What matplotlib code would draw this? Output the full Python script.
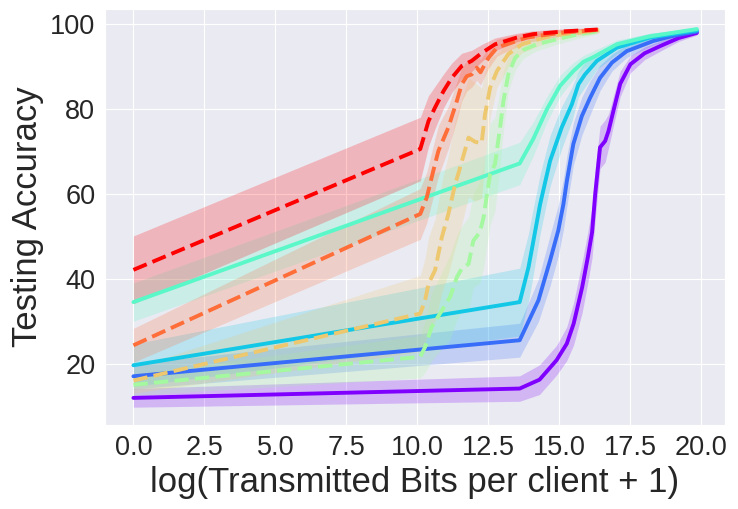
import matplotlib
matplotlib.use("Agg")
import matplotlib.pyplot as plt
import seaborn as sns
import numpy as np

sns.set_style("darkgrid")
plt.rcParams['font.family'] = ['Liberation Sans', 'DejaVu Sans']

# ---- data ----
x_purple = [0, 13.6, 14.3, 14.9, 15.26, 15.5, 15.8, 16.0, 16.15, 16.26, 16.43, 16.61, 16.73, 16.9, 17.14, 17.5, 18.0, 18.55, 19.2, 19.84]
y_purple = [11.9, 14.1, 16.2, 20.8, 24.7, 29.4, 38.0, 45.1, 51.0, 60.0, 71.0, 72.5, 74.9, 79.6, 86.0, 90.6, 93.2, 94.9, 96.8, 98.0]
s_purple = [2.2, 3.0, 3.5, 3.5, 4, 5, 6, 6, 6, 6, 5, 5, 4, 3.5, 3, 2, 1.5, 1.2, 0.8, 0.5]

x_blue = [0, 13.6, 14.26, 14.67, 14.96, 15.14, 15.26, 15.49, 15.79, 16.08, 16.43, 16.85, 17.37, 18.31, 19.0, 19.84]
y_blue = [17.0, 25.5, 34.9, 44.3, 51.4, 57.6, 63.0, 71.8, 78.4, 82.7, 87.4, 91.0, 93.7, 96.1, 97.3, 98.3]
s_blue = [3, 4, 5, 6, 6, 6, 6, 5, 4.5, 4, 3, 2, 1.5, 1, 0.7, 0.5]

x_cyan = [0, 13.6, 13.91, 14.03, 14.32, 14.67, 15.08, 15.44, 15.67, 15.9, 16.32, 17.02, 18.19, 19.84]
y_cyan = [19.6, 34.5, 42.7, 47.0, 57.6, 67.8, 75.7, 81.2, 85.9, 88.2, 91.4, 94.5, 96.9, 98.6]
s_cyan = [5, 8, 8, 8, 7, 6, 5, 4, 3, 3, 2, 1.5, 1, 0.5]

x_aqua = [0, 13.6, 14.08, 14.56, 15.02, 15.49, 15.85, 16.2, 17.02, 18.19, 19.84]
y_aqua = [34.5, 67.2, 73.0, 80.0, 85.5, 89.0, 91.2, 92.3, 95.3, 97.2, 98.9]
s_aqua = [4.5, 5, 4, 3, 2.5, 2, 1.5, 1.5, 1, 0.7, 0.4]

x_green = [0, 10.1, 10.27, 10.5, 10.86, 11.15, 11.39, 11.56, 11.8, 11.97, 12.2, 12.33, 12.45, 12.56, 12.73, 12.91, 13.03, 13.2, 13.44, 13.73, 14.2, 14.91, 15.6, 16.35]
y_green = [15.0, 21.6, 23.9, 28.6, 32.5, 35.7, 40.4, 42.4, 43.5, 49.0, 51.0, 54.5, 60.0, 64.7, 67.0, 75.7, 82.0, 88.2, 92.1, 94.0, 95.3, 96.5, 97.6, 98.4]
s_green = [2.5, 5, 6, 8, 9, 10, 10, 10, 11, 11, 12, 12, 12, 12, 11, 9, 7, 4, 3, 2, 1.5, 1.2, 1, 0.6]

x_yellow = [0, 10.1, 10.27, 10.39, 10.62, 10.86, 11.09, 11.33, 11.45, 11.8, 12.03, 12.26, 12.38, 12.56, 12.8, 13.2, 13.68, 14.67, 15.5, 16.4]
y_yellow = [16.0, 31.8, 34.9, 38.8, 42.0, 49.8, 55.3, 62.4, 65.0, 73.3, 72.3, 72.0, 78.8, 85.1, 89.0, 93.0, 95.3, 97.3, 98.0, 98.6]
s_yellow = [3, 9, 10, 11, 12, 13, 14, 15, 15, 14, 14, 13, 10, 7, 4, 3, 2, 1.2, 0.9, 0.6]

x_orange = [0, 10.1, 10.33, 10.56, 10.74, 11.09, 11.39, 11.56, 11.74, 11.91, 12.09, 12.22, 12.5, 12.8, 13.0, 13.85, 15.0, 16.35]
y_orange = [24.3, 55.3, 59.2, 65.5, 70.2, 75.7, 82.0, 85.9, 87.8, 88.2, 89.8, 88.7, 92.1, 94.5, 95.0, 96.9, 98.0, 98.7]
s_orange = [4, 6, 6, 6, 6, 5, 4.5, 4, 3.5, 3, 3, 3, 2.5, 2, 1.8, 1.2, 0.8, 0.5]

x_red = [0, 10.1, 10.39, 10.62, 10.92, 11.21, 11.56, 11.91, 12.27, 12.73, 13.5, 14.07, 15.26, 16.35]
y_red = [42.1, 70.6, 77.2, 80.4, 84.3, 87.4, 90.2, 91.4, 93.3, 95.3, 96.9, 97.7, 98.4, 98.8]
s_red = [8, 7.5, 6, 5, 4, 3.5, 3, 2.5, 2, 1.5, 1, 0.8, 0.6, 0.4]

series = [
    (x_purple, y_purple, s_purple, '-'),
    (x_blue, y_blue, s_blue, '-'),
    (x_cyan, y_cyan, s_cyan, '-'),
    (x_aqua, y_aqua, s_aqua, '-'),
    (x_green, y_green, s_green, '--'),
    (x_yellow, y_yellow, s_yellow, '--'),
    (x_orange, y_orange, s_orange, '--'),
    (x_red, y_red, s_red, '--'),
]

fig = plt.figure(figsize=(7.38, 5.09), dpi=100)
ax = fig.add_axes([0.1423, 0.165, 0.8401, 0.817])

colors = plt.cm.rainbow(np.linspace(0, 1, len(series)))
for (x, y, s, ls), c in zip(series, colors):
    x = np.array(x); y = np.array(y); s = np.array(s)
    ax.fill_between(x, y - s, y + s, color=c, alpha=0.22, linewidth=0)
    ax.plot(x, y, ls, color=c, linewidth=2.8)

ax.set_xlim(-1.0, 20.83)
ax.set_ylim(5.5, 103.6)
ax.set_xticks(np.arange(0, 20.01, 2.5))
ax.set_yticks([20, 40, 60, 80, 100])
ax.tick_params(labelsize=19.5)
ax.set_xlabel('log(Transmitted Bits per client + 1)', fontsize=25)
ax.set_ylabel('Testing Accuracy', fontsize=25)

fig.savefig('out.png', dpi=100)
